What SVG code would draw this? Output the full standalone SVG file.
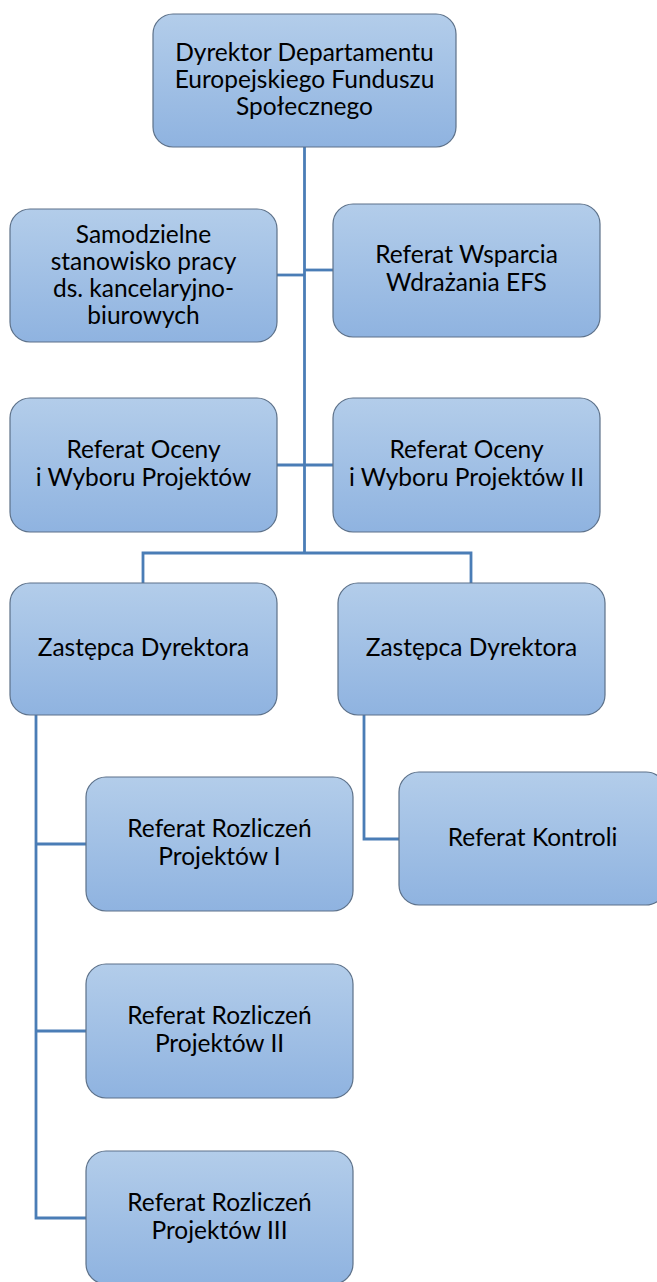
<svg xmlns="http://www.w3.org/2000/svg" width="657" height="1282" viewBox="0 0 657 1282">
<defs>
<linearGradient id="g" x1="0" y1="0" x2="0" y2="1">
<stop offset="0" stop-color="#b3cdea"/>
<stop offset="1" stop-color="#8fb3e0"/>
</linearGradient>
<style>
.box{fill:url(#g);stroke:#5d7189;stroke-width:1.2}
.t{font-family:Lato,"Liberation Sans",sans-serif;font-size:24.5px;fill:#000;text-anchor:middle}
.c{fill:none;stroke:#4a7db6;stroke-width:2.8}
</style>
</defs>
<rect width="657" height="1282" fill="#fff"/>
<g id="connectors">
<path class="c" d="M304.5 147 V553"/>
<path class="c" d="M277 275 H304.5"/>
<path class="c" d="M304.5 270 H333"/>
<path class="c" d="M277 465 H333"/>
<path class="c" d="M143 583 V553 H471 V583"/>
<path class="c" d="M36 715 V1218 H86"/>
<path class="c" d="M36 844 H86"/>
<path class="c" d="M36 1031 H86"/>
<path class="c" d="M364 715 V839 H399"/>
</g>
<g id="dyrektor">
<rect class="box" x="153" y="14" width="303" height="133" rx="20"/>
<text class="t" x="304.5" y="61">Dyrektor Departamentu</text>
<text class="t" x="304.5" y="88">Europejskiego Funduszu</text>
<text class="t" x="304.5" y="115">Społecznego</text>
</g>
<g id="samodzielne">
<rect class="box" x="10" y="209" width="267" height="133" rx="20"/>
<text class="t" x="143.5" y="243">Samodzielne</text>
<text class="t" x="143.5" y="270">stanowisko pracy</text>
<text class="t" x="143.5" y="297">ds. kancelaryjno-</text>
<text class="t" x="143.5" y="324">biurowych</text>
</g>
<g id="wsparcia">
<rect class="box" x="333" y="204" width="267" height="133" rx="20"/>
<text class="t" x="466.5" y="263">Referat Wsparcia</text>
<text class="t" x="466.5" y="291">Wdrażania EFS</text>
</g>
<g id="oceny1">
<rect class="box" x="10" y="398" width="267" height="134" rx="20"/>
<text class="t" x="143.5" y="458">Referat Oceny</text>
<text class="t" x="143.5" y="486">i Wyboru Projektów</text>
</g>
<g id="oceny2">
<rect class="box" x="333" y="398" width="267" height="134" rx="20"/>
<text class="t" x="466.5" y="458">Referat Oceny</text>
<text class="t" x="466.5" y="486">i Wyboru Projektów II</text>
</g>
<g id="zastepca1">
<rect class="box" x="10" y="583" width="267" height="132" rx="20"/>
<text class="t" x="143.5" y="656">Zastępca Dyrektora</text>
</g>
<g id="zastepca2">
<rect class="box" x="338" y="583" width="267" height="132" rx="20"/>
<text class="t" x="471.5" y="656">Zastępca Dyrektora</text>
</g>
<g id="rozliczen1">
<rect class="box" x="86" y="777" width="267" height="134" rx="20"/>
<text class="t" x="219.5" y="837">Referat Rozliczeń</text>
<text class="t" x="219.5" y="865">Projektów I</text>
</g>
<g id="kontroli">
<rect class="box" x="399" y="772" width="267" height="133" rx="20"/>
<text class="t" x="532.5" y="846">Referat Kontroli</text>
</g>
<g id="rozliczen2">
<rect class="box" x="86" y="964" width="267" height="134" rx="20"/>
<text class="t" x="219.5" y="1024">Referat Rozliczeń</text>
<text class="t" x="219.5" y="1052">Projektów II</text>
</g>
<g id="rozliczen3">
<rect class="box" x="86" y="1151" width="267" height="133" rx="20"/>
<text class="t" x="219.5" y="1211">Referat Rozliczeń</text>
<text class="t" x="219.5" y="1239">Projektów III</text>
</g>
</svg>
